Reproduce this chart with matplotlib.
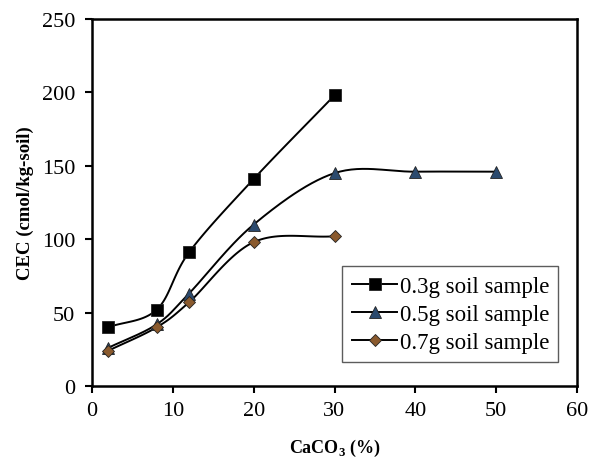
import numpy as np
import matplotlib
matplotlib.use("Agg")
import matplotlib.pyplot as plt

plt.rcParams['font.family'] = ['Liberation Serif', 'DejaVu Serif']
plt.rcParams['mathtext.fontset'] = 'custom'
plt.rcParams['mathtext.rm'] = 'Liberation Serif'
plt.rcParams['mathtext.bf'] = 'Liberation Serif:bold'

x_03 = [2, 8, 12, 20, 30]
y_03 = [40, 52, 91, 141, 198]
x_05 = [2, 8, 12, 20, 30, 40, 50]
y_05 = [26, 42, 63, 110, 145, 146, 146]
x_07 = [2, 8, 12, 20, 30]
y_07 = [24, 40, 57, 98, 102]


def smooth(xs, ys, n=30):
    # Excel-style smoothed line (Catmull-Rom through the points)
    xs = np.asarray(xs, float)
    ys = np.asarray(ys, float)
    px = np.concatenate([[2 * xs[0] - xs[1]], xs, [2 * xs[-1] - xs[-2]]])
    py = np.concatenate([[2 * ys[0] - ys[1]], ys, [2 * ys[-1] - ys[-2]]])
    ox, oy = [], []
    t = np.linspace(0, 1, n)
    for i in range(1, len(px) - 2):
        for arr, out in ((px, ox), (py, oy)):
            p0, p1, p2, p3 = arr[i - 1], arr[i], arr[i + 1], arr[i + 2]
            out.extend(0.5 * ((2 * p1) + (-p0 + p2) * t
                              + (2 * p0 - 5 * p1 + 4 * p2 - p3) * t ** 2
                              + (-p0 + 3 * p1 - 3 * p2 + p3) * t ** 3))
    return ox, oy


fig = plt.figure(figsize=(5.97, 4.60), dpi=100)
ax = fig.add_axes([92 / 597, 1 - 387 / 460, (577 - 92) / 597, (387 - 20) / 460])

series = [
    (x_03, y_03, 's', 'black', 8.5, '0.3g soil sample'),
    (x_05, y_05, '^', '#2b4a6e', 8.5, '0.5g soil sample'),
    (x_07, y_07, 'D', '#8a5a2e', 6.5, '0.7g soil sample'),
]
for xs, ys, m, c, ms, lab in series:
    sx, sy = smooth(xs, ys)
    ax.plot(sx, sy, color='black', lw=1.4, zorder=2)
    ax.plot(xs, ys, ls='none', marker=m, ms=ms, mfc=c, mec='#222222', mew=0.6, zorder=3)
    ax.plot([], [], color='black', lw=1.4, marker=m, ms=ms, mfc=c, mec='#222222',
            mew=0.6, label=lab)

ax.set_xlim(0, 60)
ax.set_ylim(0, 250)
ax.set_xticks(range(0, 61, 10))
ax.set_yticks(range(0, 251, 50))
ax.tick_params(direction='out', length=5, width=1.5, labelsize=16)
ax.tick_params(axis='x', pad=6)
ax.tick_params(axis='y', pad=7)
for sp in ax.spines.values():
    sp.set_linewidth(1.8)

ax.set_xlabel('CaCO$_\\mathbf{3}$ (%)', fontsize=13, fontweight='bold', va='center')
ax.xaxis.set_label_coords(0.5, -(448 - 387) / (387 - 20))
ax.set_ylabel('CEC (cmol/kg-soil)', fontsize=13.5, fontweight='bold', labelpad=6)

leg = ax.legend(loc='lower right', bbox_to_anchor=(0.985, 0.035), fontsize=16.5,
                frameon=True, fancybox=False, edgecolor='#333333',
                handlelength=2.0, handletextpad=0.1, labelspacing=0.3,
                borderpad=0.4)
leg.get_frame().set_linewidth(1.0)

fig.savefig('out.png', dpi=100)
